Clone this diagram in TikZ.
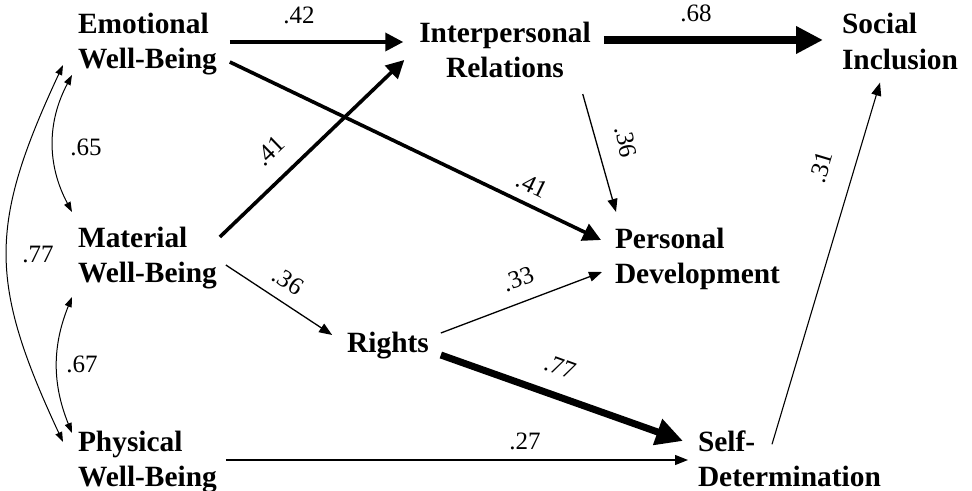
\documentclass[tikz,border=0pt]{standalone}
\usepackage{fontspec}
\setmainfont{Liberation Serif}
\usetikzlibrary{arrows.meta,calc}
\begin{document}
\begin{tikzpicture}[x=0.5pt,y=0.5pt,
  var/.style={font=\fontsize{14.7}{17.75}\selectfont\bfseries, inner sep=0pt, outer sep=0pt, align=left},
  coef/.style={font=\fontsize{12.5}{14}\selectfont, inner sep=0pt},
  thinpath/.style={line width=0.65pt, -{Triangle[length=6.5pt,width=5pt]}},
  midpath/.style={line width=1.8pt, -{Triangle[length=9pt,width=9pt]}},
  heavypath/.style={line width=3.8pt, -{Triangle[length=13.5pt,width=13pt]}},
  corr/.style={line width=0.5pt, {Triangle[length=5pt,width=3.5pt]}-{Triangle[length=5pt,width=3.5pt]}}
]
\useasboundingbox (0,0) rectangle (972,-491);

% variables
\node[var, anchor=west] (emo) at (78,-44) {Emotional\\Well-Being};
\node[var, anchor=west] (mat) at (78,-258) {Material\\Well-Being};
\node[var, anchor=west] (phy) at (78,-462) {Physical\\Well-Being};
\node[var, align=center] (ipr) at (505,-50) {Interpersonal\\Relations};
\node[var, anchor=west] (soc) at (842,-41.5) {Social\\Inclusion};
\node[var, anchor=west] (per) at (615,-259) {Personal\\Development};
\node[var] (rig) at (388,-346) {Rights};
\node[var, anchor=west] (sdt) at (698,-459) {Self-\\Determination};

% paths
\draw[midpath] ($(emo.east)+(13,2)$) -- ($(ipr.west)+(-16,8)$);
\draw[heavypath, line width=4pt] ($(ipr.east)+(13,10)$) -- ($(soc.west)+(-19,1.5)$);
\draw[midpath] ($(emo.east)+(13,-18)$) -- ($(per.west)+(-14,19)$);
\draw[midpath] ($(mat.east)+(3,21)$) -- ($(ipr.west)+(-15,-10)$);
\draw[thinpath] ($(ipr.south east)+(-8,-16)$) -- ($(per.north west)+(1,16)$);
\draw[thinpath] ($(mat.east)+(9,-7)$) -- ($(rig.west)+(-15,11)$);
\draw[thinpath] ($(rig.east)+(12,13)$) -- ($(per.west)+(-13,-13)$);
\draw[heavypath, line width=3.5pt] ($(rig.east)+(12,-9)$) -- ($(sdt.west)+(-15,18)$);
\draw[thinpath] ($(phy.east)+(9,2)$) -- ($(sdt.west)+(-10,-1)$);
\draw[thinpath, line width=0.55pt] ($(sdt.north west)+(74,-13.5)$) -- ($(soc.south west)+(38,-13)$);

% correlations
\draw[corr] ($(emo.west)+(-6,-31)$) to[bend right=28] ($(mat.west)+(-6,46)$);
\draw[corr] ($(mat.west)+(-6,-39)$) to[bend right=22] ($(phy.west)+(-6,29)$);
\draw[corr] ($(emo.west)+(-15,-21)$) to[bend right=25, looseness=1.2] ($(phy.west)+(-15,20)$);

% coefficients
\node[coef] (c1) at (299,-15) {.42};
\node[coef] (c2) at (696,-13) {.68};
\node[coef, rotate=-26] (c3) at (532,-185) {.41};
\node[coef, rotate=44] (c4) at (270,-151) {.41};
\node[coef, rotate=-78] (c5) at (626,-142) {.36};
\node[coef, rotate=-33.7] (c6) at (288,-281) {.36};
\node[coef, rotate=20.6] (c7) at (518,-279) {.33};
\node[coef, rotate=-20] (c8) at (560,-367) {.77};
\node[coef] (c9) at (525,-441) {.27};
\node[coef, rotate=73.4] (c10) at (821,-167) {.31};
\node[coef] (c11) at (86,-147) {.65};
\node[coef] (c12) at (82,-364) {.67};
\node[coef] (c13) at (38,-254) {.77};
\end{tikzpicture}
\end{document}
